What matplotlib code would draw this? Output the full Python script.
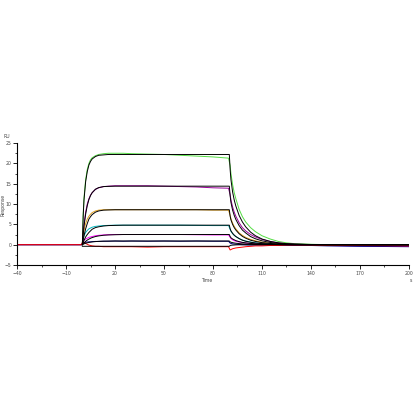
import matplotlib
matplotlib.use("Agg")
import matplotlib.pyplot as plt
from matplotlib.ticker import MultipleLocator

# time points (s)
t_base = [-40, -20, -0.5]
t_assoc = [0, 0.5, 1, 2, 3, 4, 5, 6, 8, 10, 13, 16, 20, 25, 30, 40, 50, 60, 70, 80, 89.5]
t_dissoc = [90.5, 91, 92, 93, 94, 96, 98, 100, 103, 106, 110, 115, 120, 125, 130, 140, 150, 170, 200]

# measured curves (RU)
green_a = [0.3, 7.5, 11.5, 16.0, 18.5, 20.0, 20.9, 21.4, 21.9, 22.2, 22.4, 22.5, 22.5, 22.5, 22.4, 22.3, 22.2, 22.0, 21.8, 21.6, 21.3]
green_d = [19.5, 17.5, 14.8, 12.8, 11.3, 8.7, 6.9, 5.6, 4.2, 3.2, 2.2, 1.4, 0.8, 0.45, 0.25, 0.1, 0.0, -0.1, -0.15]
purple_a = [0.5, 3.0, 5.0, 8.0, 10.0, 11.3, 12.2, 12.8, 13.6, 14.0, 14.3, 14.4, 14.5, 14.5, 14.5, 14.5, 14.4, 14.3, 14.2, 14.0, 13.9]
purple_d = [12.3, 11.0, 9.3, 8.0, 7.0, 5.4, 4.2, 3.4, 2.5, 1.9, 1.3, 0.8, 0.45, 0.25, 0.12, 0.0, -0.05, -0.2, -0.3]
orange_a = [0.4, 2.5, 3.6, 5.2, 6.3, 7.0, 7.5, 7.9, 8.3, 8.5, 8.6, 8.6, 8.6, 8.6, 8.6, 8.6, 8.6, 8.6, 8.6, 8.5, 8.5]
orange_d = [7.2, 6.4, 5.3, 4.5, 3.9, 2.9, 2.3, 1.8, 1.3, 0.95, 0.6, 0.35, 0.2, 0.1, 0.05, -0.05, -0.1, -0.3, -0.4]
cyan_a = [0.3, 1.5, 2.2, 3.0, 3.5, 3.9, 4.1, 4.3, 4.5, 4.6, 4.7, 4.75, 4.8, 4.8, 4.8, 4.8, 4.8, 4.8, 4.75, 4.7, 4.7]
cyan_d = [3.8, 3.3, 2.7, 2.3, 2.0, 1.5, 1.15, 0.9, 0.65, 0.45, 0.3, 0.15, 0.05, 0.0, -0.05, -0.1, -0.15, -0.3, -0.4]
magenta_a = [0.3, 0.8, 1.1, 1.4, 1.6, 1.8, 1.9, 2.0, 2.2, 2.3, 2.4, 2.45, 2.5, 2.5, 2.5, 2.5, 2.5, 2.5, 2.45, 2.4, 2.4]
magenta_d = [1.8, 1.5, 1.2, 1.0, 0.85, 0.65, 0.5, 0.4, 0.3, 0.2, 0.12, 0.05, 0.0, -0.05, -0.1, -0.15, -0.2, -0.3, -0.4]
navy_a = [0.2, 0.4, 0.5, 0.6, 0.65, 0.7, 0.7, 0.75, 0.8, 0.8, 0.85, 0.85, 0.9, 0.85, 0.9, 0.85, 0.9, 0.85, 0.9, 0.85, 0.85]
navy_d = [0.4, 0.3, 0.2, 0.15, 0.1, 0.05, 0.0, -0.05, -0.1, -0.1, -0.1, -0.1, -0.15, -0.15, -0.2, -0.2, -0.3, -0.4, -0.5]
red_a = [0.5, 0.6, 0.5, 0.3, 0.1, -0.1, -0.2, -0.3, -0.4, -0.4, -0.5, -0.5, -0.5, -0.5, -0.5, -0.6, -0.5, -0.5, -0.5, -0.5, -0.5]
red_d = [-1.3, -1.2, -1.0, -0.9, -0.8, -0.7, -0.6, -0.5, -0.4, -0.3, -0.3, -0.2, -0.2, -0.1, -0.1, -0.1, -0.2, -0.2, -0.3]

# fitted curves (RU)
fit1_a = [0, 7.0, 11.0, 15.5, 18.0, 19.6, 20.5, 21.1, 21.7, 22.0, 22.1, 22.2, 22.2, 22.2, 22.2, 22.2, 22.2, 22.2, 22.2, 22.2, 22.2]
fit1_d = [18.5, 16.0, 13.0, 11.0, 9.5, 7.2, 5.6, 4.4, 3.1, 2.2, 1.4, 0.8, 0.45, 0.25, 0.15, 0.05, 0.0, 0.0, 0.0]
fit2_a = [0, 2.4, 4.5, 7.5, 9.6, 11.1, 12.1, 12.8, 13.65, 14.05, 14.3, 14.35, 14.4, 14.4, 14.4, 14.4, 14.4, 14.4, 14.4, 14.4, 14.4]
fit2_d = [12.0, 10.4, 8.5, 7.2, 6.2, 4.7, 3.6, 2.9, 2.0, 1.45, 0.95, 0.55, 0.3, 0.17, 0.1, 0.03, 0.0, 0.0, 0.0]
fit3_a = [0, 1.2, 2.2, 3.9, 5.2, 6.3, 6.9, 7.4, 8.0, 8.3, 8.5, 8.55, 8.6, 8.6, 8.6, 8.6, 8.6, 8.6, 8.6, 8.6, 8.6]
fit3_d = [7.0, 6.1, 5.0, 4.2, 3.6, 2.7, 2.05, 1.6, 1.1, 0.8, 0.5, 0.3, 0.15, 0.08, 0.04, 0.01, 0.0, 0.0, 0.0]
fit4_a = [0, 0.57, 1.06, 1.9, 2.5, 3.0, 3.4, 3.8, 4.2, 4.4, 4.6, 4.7, 4.75, 4.8, 4.8, 4.8, 4.8, 4.8, 4.8, 4.8, 4.8]
fit4_d = [3.9, 3.4, 2.8, 2.35, 2.0, 1.5, 1.1, 0.85, 0.6, 0.4, 0.25, 0.12, 0.06, 0.03, 0.01, 0.0, 0.0, 0.0, 0.0]
fit5_a = [0, 0.24, 0.45, 0.82, 1.13, 1.37, 1.58, 1.75, 2.0, 2.16, 2.32, 2.4, 2.45, 2.5, 2.5, 2.5, 2.5, 2.5, 2.5, 2.5, 2.5]
fit5_d = [2.0, 1.7, 1.4, 1.2, 1.0, 0.75, 0.57, 0.45, 0.3, 0.2, 0.13, 0.07, 0.03, 0.015, 0.01, 0.0, 0.0, 0.0, 0.0]
fit6_a = [0, 0.1, 0.2, 0.35, 0.45, 0.55, 0.62, 0.68, 0.76, 0.82, 0.86, 0.88, 0.9, 0.9, 0.9, 0.9, 0.9, 0.9, 0.9, 0.9, 0.9]
fit6_d = [0.7, 0.6, 0.5, 0.42, 0.36, 0.27, 0.2, 0.15, 0.1, 0.07, 0.04, 0.02, 0.01, 0.0, 0.0, 0.0, 0.0, 0.0, 0.0]
fit7_a = [-0.4, -0.4, -0.4, -0.4, -0.4, -0.4, -0.4, -0.4, -0.4, -0.4, -0.4, -0.4, -0.4, -0.4, -0.4, -0.4, -0.4, -0.4, -0.4, -0.4, -0.4]
fit7_d = [-0.2, -0.15, -0.1, -0.08, -0.05, -0.03, -0.02, 0.0, 0.0, 0.0, 0.0, 0.0, 0.0, 0.0, 0.0, 0.0, 0.0, 0.0, 0.0]

x_ticks = [-40, -10, 20, 50, 80, 110, 140, 170, 200]
y_ticks = [-5, 0, 5, 10, 15, 20, 25]

measured = [
    (green_a, green_d, "#55dd44"),
    (purple_a, purple_d, "#990099"),
    (orange_a, orange_d, "#e0a020"),
    (cyan_a, cyan_d, "#00b8c0"),
    (magenta_a, magenta_d, "#ff00ff"),
    (navy_a, navy_d, "#000088"),
]
fits = [(fit1_a, fit1_d), (fit2_a, fit2_d), (fit3_a, fit3_d),
        (fit4_a, fit4_d), (fit5_a, fit5_d), (fit6_a, fit6_d), (fit7_a, fit7_d)]

fig = plt.figure(figsize=(4.16, 4.16), dpi=100)
ax = fig.add_axes([0.041, 0.363, 0.942, 0.293])

t_full = t_base + t_assoc + t_dissoc
for a, d, c in measured:
    ax.plot(t_full, [0, 0, 0] + a + d, color=c, lw=0.7)
ax.plot(t_full, [0, 0, 0] + red_a + red_d, color="#ff0000", lw=0.7)

t_fit = t_assoc + [90] + t_dissoc
for a, d in fits:
    ax.plot(t_fit, a + [a[-1]] + d, color="black", lw=0.7)

ax.set_xlim(-40, 200)
ax.set_ylim(-5, 25)
ax.set_xticks(x_ticks)
ax.set_xticks([v + 15 for v in x_ticks[:-1]], minor=True)
ax.set_yticks(y_ticks)
ax.yaxis.set_minor_locator(MultipleLocator(2.5))
for s in ["top", "right"]:
    ax.spines[s].set_visible(False)
for s in ["left", "bottom"]:
    ax.spines[s].set_linewidth(0.8)
ax.tick_params(which="major", length=3, width=0.6, labelsize=3.3, pad=1.2, labelcolor="#444444")
ax.tick_params(which="minor", length=1.5, width=0.5)

fig.text(7 / 416, 1 - 136 / 416, "RU", fontsize=3.3, ha="center", va="center", color="#444444")
fig.text(3 / 416, 1 - 205 / 416, "Response", fontsize=3.3, ha="center", va="center", rotation=90, color="#444444")
fig.text(207 / 416, 1 - 280 / 416, "Time", fontsize=3.3, ha="center", va="center", color="#444444")
fig.text(411 / 416, 1 - 280 / 416, "s", fontsize=3.3, ha="center", va="center", color="#444444")

fig.savefig("out.png", dpi=100)
